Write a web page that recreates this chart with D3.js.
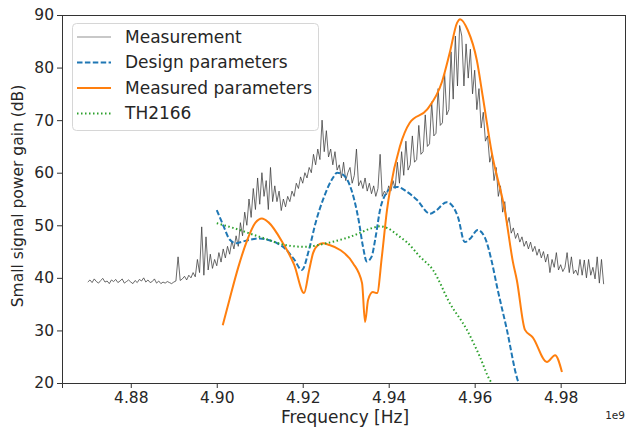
<!DOCTYPE html>
<html lang="en">
<head>
<meta charset="UTF-8">
<title>Small signal power gain</title>
<style>
    body { margin: 0; background: #fff; font-family: "DejaVu Sans", sans-serif; }
    .tick text { font-family: "DejaVu Sans", sans-serif; font-size: 15.5px; fill: #262626; }
    .tick line, .domain { stroke: #333; }
</style>
</head>
<body>
<div id="chart"></div>
<script src="https://d3js.org/d3.v7.min.js"></script>
<script>
    const measStart = 4.870, measStep = 0.0005;
    const measGain = [
        39.2, 39.6, 39.1, 39.8, 39.3, 39.0, 39.5, 39.9, 39.2, 39.4, 38.9, 39.6, 39.3, 39.7, 39.1, 39.4,
        39.8, 39.0, 39.3, 39.6, 39.2, 38.9, 39.5, 39.1, 39.7, 39.4, 40.0, 39.2, 39.6, 39.1, 39.3, 39.8,
        39.0, 39.4, 38.9, 39.2, 39.0, 39.3, 39.1, 38.9, 39.2, 39.4, 44.0, 39.5, 39.8, 40.3, 39.6, 40.5,
        40.0, 41.0, 40.2, 43.5, 41.0, 49.7, 40.5, 47.8, 41.5, 44.5, 41.8, 43.5, 42.3, 44.8, 43.0, 45.5,
        43.8, 46.0, 44.5, 47.0, 45.5, 48.0, 46.0, 50.5, 48.0, 52.5, 50.0, 55.0, 51.5, 57.0, 53.0, 59.0,
        54.0, 60.0, 55.5, 58.5, 53.0, 61.0, 54.5, 57.5, 54.5, 56.5, 52.8, 55.0, 53.5, 55.5, 54.5, 56.5,
        55.5, 58.0, 57.0, 59.2, 58.0, 60.0, 59.0, 61.0, 60.0, 63.5, 61.5, 64.5, 62.5, 70.0, 64.0, 68.0,
        63.0, 64.5, 61.5, 64.0, 60.5, 61.5, 59.0, 62.0, 58.5, 60.0, 61.0, 58.0, 59.5, 64.5, 57.5, 58.5,
        57.0, 59.0, 56.5, 58.0, 56.0, 57.5, 55.5, 57.0, 63.5, 55.5, 56.5, 55.8, 57.5, 56.5, 58.5, 57.0,
        62.0, 58.0, 64.0, 59.5, 66.0, 60.5, 61.5, 67.0, 62.0, 62.5, 69.0, 63.5, 64.0, 71.0, 65.0, 65.5,
        73.5, 67.0, 67.5, 76.0, 69.0, 69.5, 79.0, 71.0, 72.0, 83.0, 74.0, 86.0, 76.5, 88.0, 86.0, 76.5,
        84.5, 78.0, 83.5, 75.0, 79.5, 72.0, 76.0, 68.5, 71.5, 66.0, 67.0, 62.0, 63.5, 58.5, 61.0, 55.5,
        57.5, 52.5, 54.5, 50.0, 51.5, 48.5, 49.5, 47.5, 48.5, 46.8, 47.8, 46.0, 47.0, 45.5, 46.8, 45.0,
        46.0, 44.3, 45.5, 43.8, 45.0, 43.0, 44.5, 41.0, 43.5, 42.0, 44.8, 41.5, 42.5, 41.2, 42.0, 44.8,
        41.0, 44.0, 40.8, 41.5, 40.5, 43.5, 40.5, 43.4, 40.0, 43.5, 40.5, 42.0, 39.8, 44.0, 39.0, 43.5,
        38.8
    ];

    // Design parameters [frequency, gain]
    const designData = [
        [4.9000, 52.9], [4.9015, 50.0], [4.9030, 47.3], [4.9045, 46.6], [4.9060, 46.9], [4.9080, 47.3],
        [4.9100, 47.5], [4.9120, 47.2], [4.9140, 46.6], [4.9160, 45.5], [4.9180, 43.5], [4.9198, 41.5],
        [4.9215, 45.5], [4.9230, 50.5], [4.9250, 55.5], [4.9270, 59.0], [4.9280, 60.0], [4.9290, 59.8],
        [4.9310, 57.5], [4.9330, 51.0], [4.9340, 46.0], [4.9349, 43.1], [4.9360, 44.0], [4.9370, 48.0],
        [4.9380, 53.0], [4.9390, 55.5], [4.9410, 57.2], [4.9420, 57.3], [4.9440, 56.5], [4.9466, 54.8],
        [4.9496, 52.2], [4.9510, 52.8], [4.9535, 54.4], [4.9550, 53.5], [4.9561, 51.6], [4.9577, 46.8],
        [4.9590, 47.5], [4.9607, 49.1], [4.9624, 47.6], [4.9640, 43.0], [4.9652, 38.3], [4.9675, 30.1],
        [4.9698, 21.1], [4.9703, 19.8]
    ];

    // Measured parameters [frequency, gain]
    const measuredData = [
        [4.9014, 31.0], [4.9030, 36.0], [4.9050, 42.0], [4.9070, 47.0], [4.9090, 50.5], [4.9105, 51.3],
        [4.9120, 50.6], [4.9154, 46.6], [4.9180, 42.5], [4.9203, 37.1], [4.9215, 41.5], [4.9224, 44.7],
        [4.9235, 46.2], [4.9247, 46.6], [4.9260, 46.3], [4.9287, 45.3], [4.9317, 42.8], [4.9338, 39.0],
        [4.9345, 31.6], [4.9352, 35.8], [4.9363, 37.3], [4.9373, 37.1], [4.9384, 44.0], [4.9396, 52.9],
        [4.9403, 56.7], [4.9426, 65.0], [4.9449, 69.5], [4.9489, 72.0], [4.9524, 77.3], [4.9542, 82.8],
        [4.9559, 88.5], [4.9566, 89.2], [4.9584, 87.1], [4.9605, 81.4], [4.9619, 74.4], [4.9640, 63.7],
        [4.9670, 52.9], [4.9689, 43.0], [4.9698, 39.6], [4.9717, 30.1], [4.9735, 28.7], [4.9768, 24.0],
        [4.9787, 25.3], [4.9803, 22.1]
    ];

    // TH2166 [frequency, gain]
    const thData = [
        [4.9000, 50.4], [4.9038, 49.5], [4.9100, 47.8], [4.9163, 46.2], [4.9205, 45.9], [4.9256, 46.6],
        [4.9310, 47.8], [4.9363, 49.5], [4.9380, 49.8], [4.9396, 49.5], [4.9426, 47.8], [4.9442, 46.8],
        [4.9473, 44.0], [4.9503, 41.5], [4.9542, 35.2], [4.9582, 30.1], [4.9612, 25.0], [4.9635, 20.6],
        [4.9645, 19.5]
    ];

    const xTicks = [4.88, 4.90, 4.92, 4.94, 4.96, 4.98];
    const yTicks = [20, 30, 40, 50, 60, 70, 80, 90];
    const legendLabels = ["Measurement", "Design parameters", "Measured parameters", "TH2166"];

    const W = 626, H = 430;
    const margin = { top: 15, right: 0, bottom: 47, left: 62 };
    const width = W - margin.left - margin.right,
        height = H - margin.top - margin.bottom;

    const svg = d3.select("#chart").append("svg")
        .attr("width", W).attr("height", H);

    const g = svg.append("g")
        .attr("transform", `translate(${margin.left},${margin.top})`);

    const x = d3.scaleLinear().domain([4.864, 4.9952]).range([0, width]);
    const y = d3.scaleLinear().domain([20, 90]).range([height, 0]);

    g.append("clipPath").attr("id", "clip")
        .append("rect").attr("width", width).attr("height", height);

    const plot = g.append("g").attr("clip-path", "url(#clip)");

    const measLine = d3.line()
        .x((d, i) => x(measStart + i * measStep))
        .y(d => y(d));

    const smooth = d3.line()
        .x(d => x(d[0]))
        .y(d => y(d[1]))
        .curve(d3.curveMonotoneX);

    plot.append("path")
        .datum(measGain)
        .attr("d", measLine)
        .style("fill", "none")
        .style("stroke", "#3a3a3a")
        .style("stroke-opacity", 0.75)
        .style("stroke-width", 1);

    plot.append("path")
        .datum(designData)
        .attr("d", smooth)
        .style("fill", "none")
        .style("stroke", "#1f77b4")
        .style("stroke-width", 2)
        .style("stroke-dasharray", "5.5,2.4");

    plot.append("path")
        .datum(measuredData)
        .attr("d", smooth)
        .style("fill", "none")
        .style("stroke", "#ff7f0e")
        .style("stroke-width", 2);

    plot.append("path")
        .datum(thData)
        .attr("d", smooth)
        .style("fill", "none")
        .style("stroke", "#2ca02c")
        .style("stroke-width", 2)
        .style("stroke-dasharray", "1.5,2.5");

    // axes
    g.append("g")
        .attr("transform", `translate(0,${height})`)
        .call(d3.axisBottom(x).tickValues(xTicks).tickFormat(d3.format(".2f")).tickSizeOuter(0).tickSize(5).tickPadding(4));

    g.append("g")
        .call(d3.axisLeft(y).tickValues(yTicks).tickFormat(d3.format("d")).tickSizeOuter(0).tickSize(5).tickPadding(3));

    // top and right spines
    g.append("line").attr("x1", 0).attr("x2", width).attr("y1", 0.5).attr("y2", 0.5)
        .style("stroke", "#333");
    g.append("line").attr("x1", width - 0.5).attr("x2", width - 0.5).attr("y1", 0).attr("y2", height)
        .style("stroke", "#333");

    // labels
    svg.append("text")
        .attr("transform", `translate(23,${margin.top + height / 2 - 3}) rotate(-90)`)
        .style("text-anchor", "middle")
        .style("font-size", "15.5px")
        .style("fill", "#262626")
        .text("Small signal power gain (dB)");

    svg.append("text")
        .attr("x", 345)
        .attr("y", 423)
        .style("text-anchor", "middle")
        .style("font-size", "17px")
        .style("fill", "#262626")
        .text("Frequency [Hz]");

    svg.append("text")
        .attr("x", 625)
        .attr("y", 419)
        .style("text-anchor", "end")
        .style("font-size", "10.5px")
        .style("fill", "#262626")
        .text("1e9");

    // legend
    const legend = g.append("g").attr("transform", "translate(10,8)");
    legend.append("rect")
        .attr("x", 0.5).attr("y", 0.5)
        .attr("width", 246).attr("height", 107)
        .attr("rx", 4)
        .style("fill", "#fff").style("fill-opacity", 0.85)
        .style("stroke", "#d6d6d6");

    const legendStyles = [
        { stroke: "#c8c8c8", dash: null },
        { stroke: "#1f77b4", dash: "5.5,2.4" },
        { stroke: "#ff7f0e", dash: null },
        { stroke: "#2ca02c", dash: "1.5,2.5" }
    ];

    const item = legend.selectAll(".item")
        .data(legendLabels)
        .enter().append("g")
        .attr("class", "item")
        .attr("transform", (d, i) => `translate(0,${14 + i * 25.5})`);

    item.append("line")
        .attr("x1", 5).attr("x2", 39).attr("y1", 0).attr("y2", 0)
        .style("stroke", (d, i) => legendStyles[i].stroke)
        .style("stroke-width", 2)
        .style("stroke-dasharray", (d, i) => legendStyles[i].dash);

    item.append("text")
        .attr("x", 53).attr("y", 0).attr("dy", "0.35em")
        .style("font-size", "17px")
        .style("fill", "#262626")
        .text(d => d);
</script>
</body>
</html>
